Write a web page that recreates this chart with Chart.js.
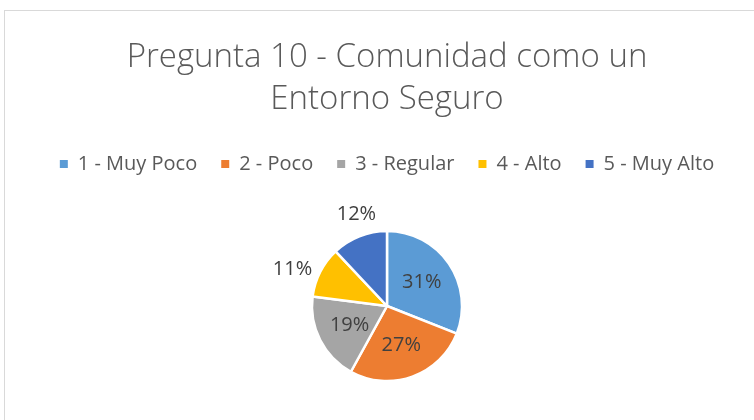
<!DOCTYPE html>
<html>
<head>
<meta charset="utf-8">
<script src="https://cdn.jsdelivr.net/npm/chart.js@4.4.1/dist/chart.umd.min.js"></script>
<style>
  html, body { margin: 0; padding: 0; background: #ffffff; overflow: hidden; }
  #wrap { position: relative; width: 754px; height: 420px; overflow: hidden; }
  #box { position: absolute; left: 0; top: 0; width: 754px; height: 428px; }
</style>
</head>
<body>
<div id="wrap"><div id="box"><canvas id="c"></canvas></div></div>
<script>
const titleLines = ["Pregunta 10 - Comunidad como un", "Entorno Seguro"];
const categories = ["1 - Muy Poco", "2 - Poco", "3 - Regular", "4 - Alto", "5 - Muy Alto"];
const percentages = [31, 27, 19, 11, 12];
const sliceColors = ["#5B9BD5", "#ED7D31", "#A5A5A5", "#FFC000", "#4472C4"];
const outsideLabel = [false, false, false, true, true];

const FONT = "'Open Sans', 'Liberation Sans', sans-serif";

const frame = {
  id: 'frame',
  beforeDraw(chart) {
    const ctx = chart.ctx;
    ctx.save();
    ctx.strokeStyle = '#D9D9D9';
    ctx.lineWidth = 1;
    ctx.strokeRect(4.5, 10.5, 900, 600);
    ctx.restore();
  }
};

const labels = {
  id: 'pieLabels',
  afterDatasetsDraw(chart) {
    const ctx = chart.ctx;
    const meta = chart.getDatasetMeta(0);
    ctx.save();
    ctx.font = "20px " + FONT;
    ctx.fillStyle = '#404040';
    ctx.textAlign = 'center';
    ctx.textBaseline = 'middle';
    meta.data.forEach((arc, i) => {
      const p = arc.getProps(['x', 'y', 'startAngle', 'endAngle', 'outerRadius'], true);
      const mid = (p.startAngle + p.endAngle) / 2;
      const txt = percentages[i] + '%';
      const c = Math.cos(mid), s = Math.sin(mid);
      let x, y;
      if (outsideLabel[i]) {
        const w = ctx.measureText(txt).width;
        x = p.x + c * p.outerRadius;
        y = p.y + s * p.outerRadius;
        if (Math.abs(c) > Math.abs(s)) {
          x += Math.sign(c) * (w / 2 + 8);
          y += s * 6;
        } else {
          y += Math.sign(s) * (10 + 12);
          x += c * 8;
        }
      } else {
        const d = p.outerRadius * 0.56;
        x = p.x + c * d;
        y = p.y + s * d;
      }
      ctx.fillText(txt, x, y);
    });
    ctx.restore();
  }
};

const baseGen = Chart.overrides.pie.plugins.legend.labels.generateLabels;

new Chart(document.getElementById('c'), {
  type: 'pie',
  data: {
    labels: categories,
    datasets: [{
      data: percentages,
      backgroundColor: sliceColors,
      borderColor: '#ffffff',
      borderWidth: 2.5,
      radius: 75
    }]
  },
  options: {
    responsive: true,
    maintainAspectRatio: false,
    animation: false,
    layout: { padding: { left: 20, right: 0, top: 0, bottom: 0 } },
    plugins: {
      tooltip: { enabled: false },
      title: {
        display: true,
        text: titleLines,
        color: '#595959',
        font: { family: FONT, size: 33, weight: '300', lineHeight: 1.273 },
        padding: { top: 37, bottom: 9 }
      },
      legend: {
        position: 'top',
        labels: {
          color: '#595959',
          font: { family: FONT, size: 20 },
          usePointStyle: true,
          pointStyle: 'rect',
          boxWidth: 8,
          boxHeight: 8,
          padding: 24,
          generateLabels(chart) {
            return baseGen(chart).map(l => Object.assign(l, { lineWidth: 0, strokeStyle: 'rgba(0,0,0,0)' }));
          }
        }
      }
    }
  },
  plugins: [frame, labels]
});
</script>
</body>
</html>
